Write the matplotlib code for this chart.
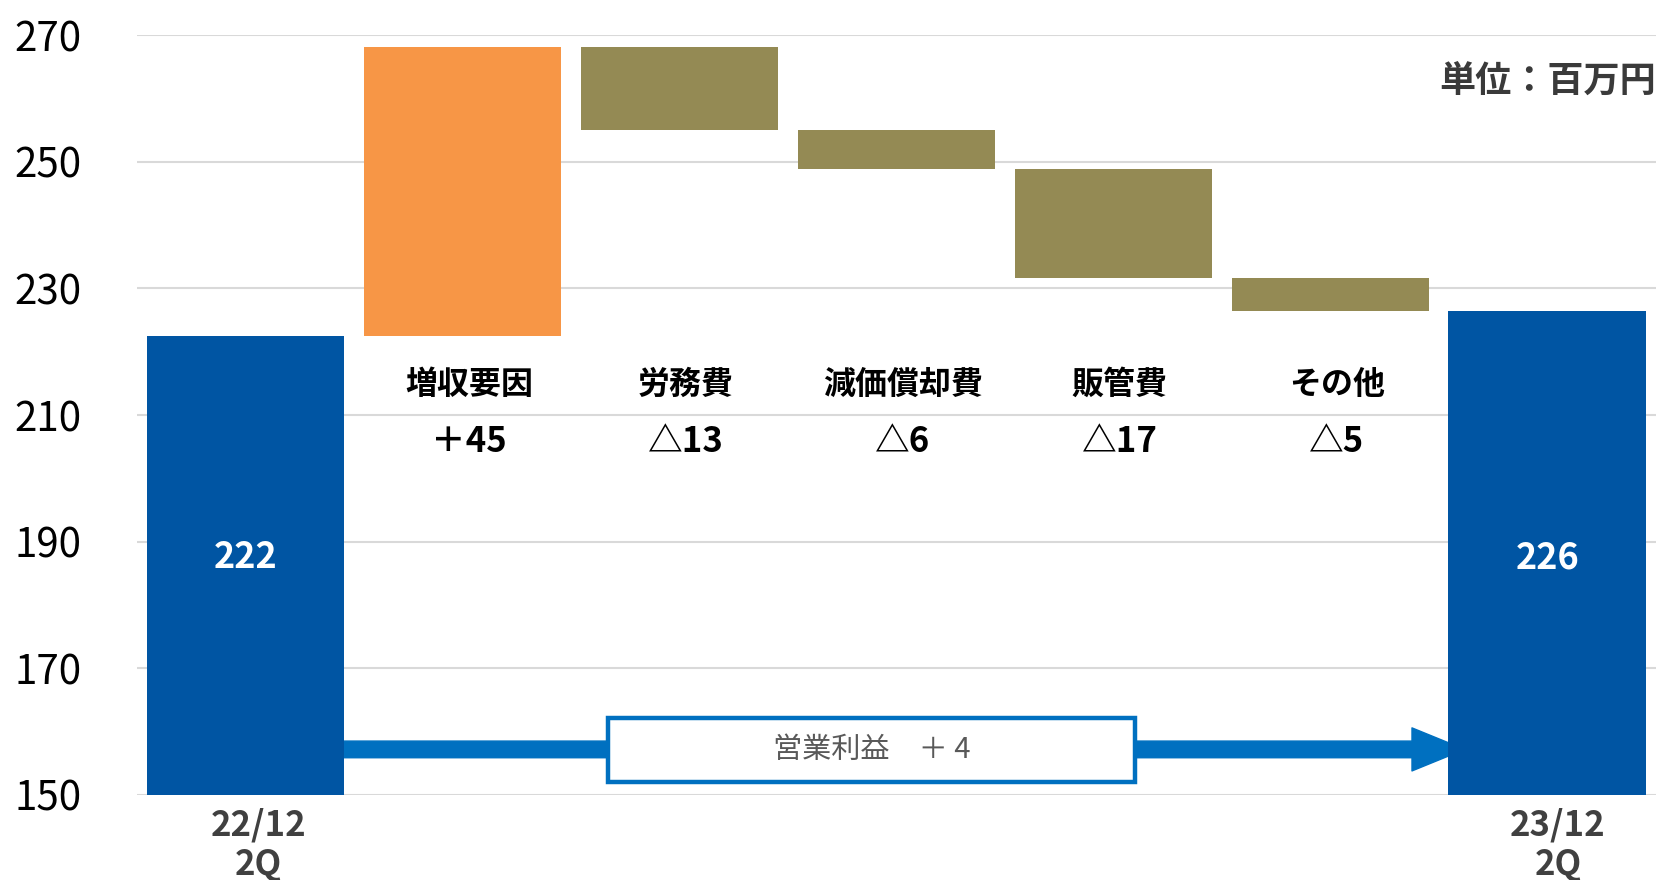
import numpy as np
import matplotlib.pyplot as plt
from matplotlib.patches import Rectangle

plt.rcParams['font.family'] = ['Noto Sans CJK JP', 'DejaVu Sans']

# data
start_value = 222.5
start_label = "22/12\n2Q"
end_label = "23/12\n2Q"
factor_names = ["増収要因", "労務費", "減価償却費", "販管費", "その他"]
factor_deltas = [45.7, -13.1, -6.3, -17.1, -5.3]
factor_texts = ["＋45", "△13", "△6", "△17", "△5"]
total_texts = ["222", "226"]
yticks = [150, 170, 190, 210, 230, 250, 270]

BLUE = "#0055A3"
ORANGE = "#F79646"
OLIVE = "#948A54"
ARROW = "#0070C0"

end_value = start_value + sum(factor_deltas)

# waterfall bottoms / heights
bottoms = [0]
heights = [start_value]
colors = [BLUE]
run = start_value
for d in factor_deltas:
    if d >= 0:
        bottoms.append(run)
    else:
        bottoms.append(run + d)
    heights.append(abs(d))
    colors.append(ORANGE if d >= 0 else OLIVE)
    run += d
bottoms.append(0)
heights.append(end_value)
colors.append(BLUE)
x = np.arange(len(heights))

fig = plt.figure(figsize=(16.59, 8.8), dpi=100)
ax = fig.add_axes([0.0826, 0.0966, 0.9154, 0.8634])

ax.bar(x, heights, bottom=bottoms, width=0.91, color=colors, zorder=3)

ax.set_xlim(-0.5, len(x) - 0.5)
ax.set_ylim(150, 270)
ax.set_yticks(yticks)
ax.tick_params(axis='y', length=0, labelsize=29, pad=40)
ax.set_xticks([])
for s in ax.spines.values():
    s.set_visible(False)
ax.yaxis.grid(True, color="#D9D9D9", linewidth=1.5, zorder=0)

# labels inside total bars
ax.text(x[0], 187.5, total_texts[0], color="white", fontsize=26, fontweight='bold',
        ha='center', va='center', zorder=5)
ax.text(x[-1], 187.5, total_texts[1], color="white", fontsize=26, fontweight='bold',
        ha='center', va='center', zorder=5)

# factor labels
for i, (name, txt) in enumerate(zip(factor_names, factor_texts)):
    ax.text(x[i + 1] + 0.03, 214.8, name, fontsize=23, fontweight='bold', color="black",
            ha='center', va='center')
    ax.text(x[i + 1] + 0.03, 205.9, txt, fontsize=25, fontweight='bold', color="black",
            ha='center', va='center')

# x labels under totals
ax.text(x[0] + 0.06, 148.0, start_label, fontsize=25, fontweight='bold', color="#404040",
        ha='center', va='top', linespacing=1.15, clip_on=False)
ax.text(x[-1] + 0.05, 148.0, end_label, fontsize=25, fontweight='bold', color="#404040",
        ha='center', va='top', linespacing=1.15, clip_on=False)

# unit
ax.text(1.0, 262.8, "単位：百万円", transform=ax.get_yaxis_transform(), fontsize=26,
        fontweight='bold', color="#3A3A3A", ha='right', va='center')

# operating profit arrow
ay = 157.2
ax.annotate('', xy=(x[-1] - 0.38, ay), xytext=(x[0] + 0.45, ay),
            arrowprops=dict(arrowstyle='simple,head_length=1.9,head_width=1.55,tail_width=0.6',
                            color=ARROW, mutation_scale=20, shrinkA=0, shrinkB=0),
            zorder=2)
box = Rectangle((1.673, 152.1), 2.426, 10.0, facecolor="white", edgecolor=ARROW,
                linewidth=3.2, zorder=4)
ax.add_patch(box)
ax.text(1.673 + 2.426 / 2, 157.1, "営業利益　＋ 4", fontsize=21, color="#595959",
        ha='center', va='center', zorder=5)

fig.savefig("out.png", dpi=100)
